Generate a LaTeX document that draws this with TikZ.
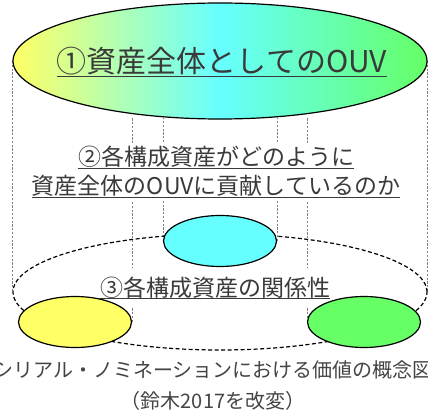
\documentclass[tikz,border=0pt]{standalone}
\usepackage{fontspec}
\setmainfont{Noto Sans CJK JP}
\usetikzlibrary{shapes.geometric}
\definecolor{cyel}{HTML}{FFFF66}
\definecolor{ccya}{HTML}{66FFFF}
\definecolor{cgre}{HTML}{66FF66}
\definecolor{txt}{HTML}{3A3A3A}
\definecolor{cap}{HTML}{444444}
\pgfdeclarelayer{background}
\pgfsetlayers{background,main}
\newcommand\myul[1]{\setbox0\hbox{#1}\rlap{\rule[-\dimexpr\dp0+1pt\relax]{\wd0}{0.9pt}}\box0}
\tikzset{
  ell/.style={ellipse, draw=black, line width=1.2pt, inner sep=0pt},
  smell/.style={ell, minimum width=113pt, minimum height=51pt},
  bigell/.style={ellipse, inner sep=0pt, minimum width=414pt, minimum height=116pt},
  vline/.style={draw=gray, line width=0.7pt, dash pattern=on 2.2pt off 1.6pt},
  lbl/.style={text=txt, inner sep=0pt, align=center},
  cover/.style={fill=white, inner xsep=2pt},
}
\begin{document}
\begin{tikzpicture}[x=1pt,y=-1pt]
\useasboundingbox (0,0) rectangle (428,414);
% top ellipse
\node[bigell, draw=black, line width=1.2pt, left color=cyel, right color=cgre, middle color=ccya] (top) at (220,61) {};
\node[lbl, font=\fontsize{30}{32}\selectfont] (t1) at (222,62) {\myul{①資産全体としてのOUV}};
% text 2
\node[lbl, cover, inner ysep=3pt, font=\fontsize{23}{29}\selectfont] (t2) at (216,172)
  {\myul{②各構成資産がどのように}\\\myul{資産全体のOUVに貢献しているのか}};
% big dashed ellipse
\node[bigell, draw=black, line width=1.2pt, dash pattern=on 4pt off 2.5pt] (big) at (220,292) {};
% text 3
\node[lbl, cover, inner ysep=9pt, font=\fontsize{23}{29}\selectfont] (t3) at (215,288) {\myul{③各構成資産の関係性}};
% small ellipses
\node[smell, fill=ccya] (cy) at (220,241) {};
\node[smell, fill=cyel] (ye) at (75,322) {};
\node[smell, fill=cgre] (gr) at (364,322) {};
% caption
\node[text=cap, inner sep=0pt, align=center, font=\fontsize{20}{31}\selectfont] (cap) at (213,386)
  {シリアル・ノミネーションにおける価値の概念図\\（鈴木2017を改変）};
% projection lines
\begin{pgfonlayer}{background}
\coordinate (ta) at (0,118);
\draw[vline] (top.west) -- (big.west);
\draw[vline] (top.east) -- (big.east);
\draw[vline] (cy.west) -- (cy.west |- ta);
\draw[vline] (cy.east) -- (cy.east |- ta);
\draw[vline] (ye.east) -- (ye.east |- ta);
\draw[vline] (gr.west) -- (gr.west |- ta);
\end{pgfonlayer}
\end{tikzpicture}
\end{document}
